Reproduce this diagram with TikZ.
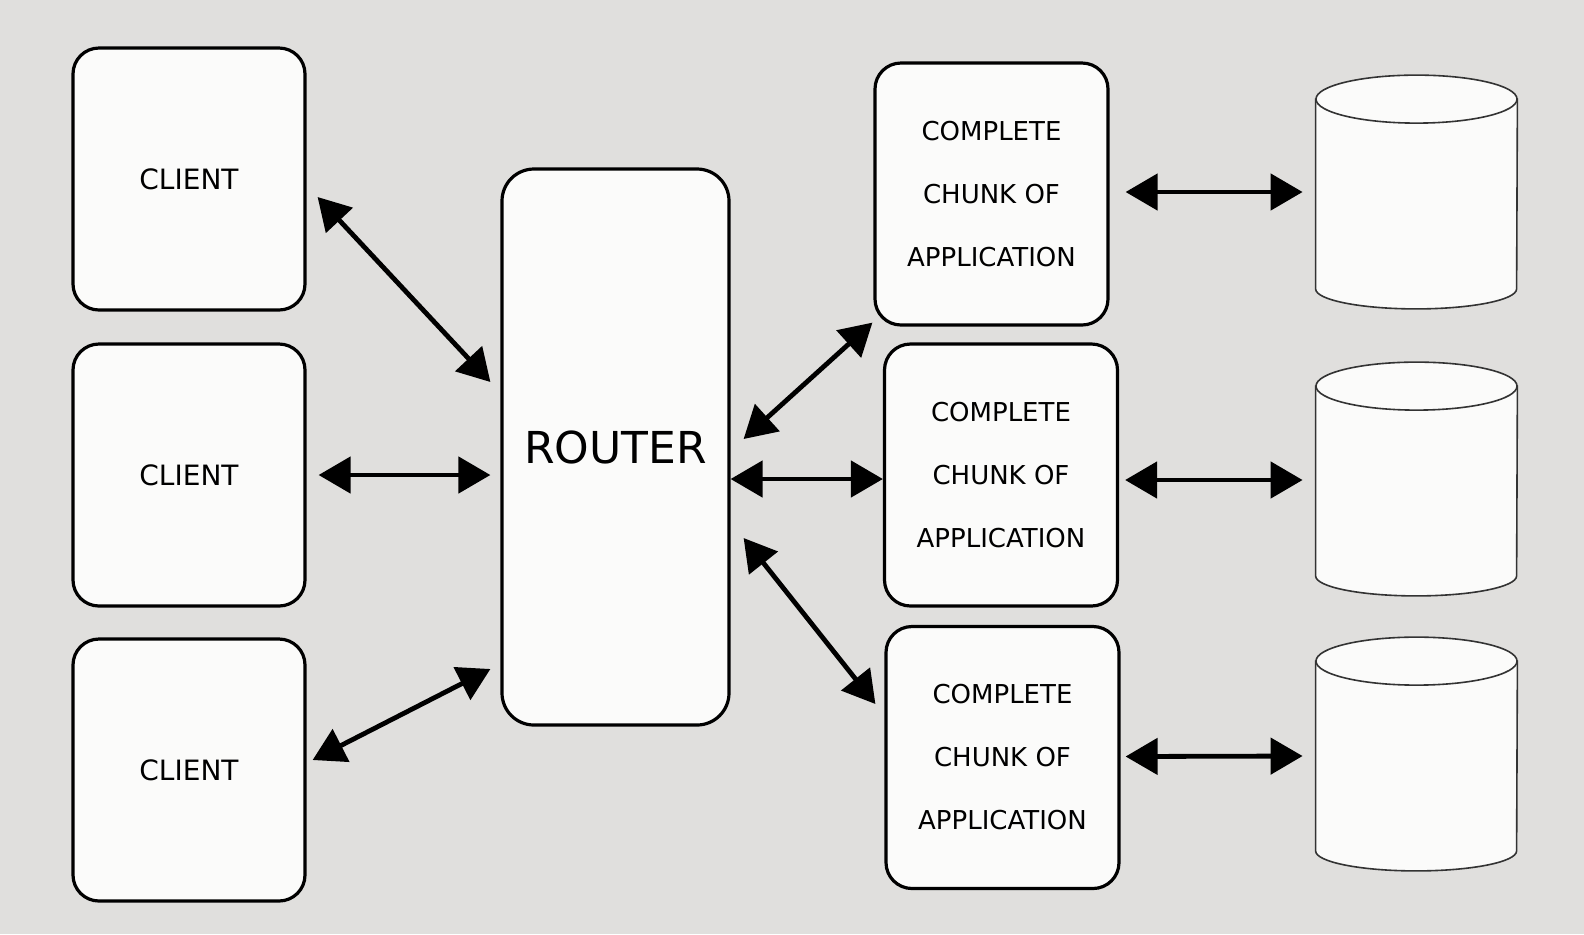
\documentclass[tikz,border=0pt]{standalone}
\usepackage{fontspec}
\setmainfont{DejaVu Sans}
\usetikzlibrary{arrows.meta,calc}
\definecolor{bg}{HTML}{E0DFDD}
\definecolor{boxfill}{HTML}{FBFBFA}
\newcommand\dbdraw[1]{%
  \filldraw[cyl] ($(#1.north west)+(0,24)$) -- ($(#1.south west)+(0,-20)$)
     arc[start angle=180,end angle=360,x radius=50.25pt,y radius=10pt]
     -- ($(#1.north east)+(0,24)$) -- cycle;
  \filldraw[cyl] ($(#1.north)+(0,24)$) ellipse[x radius=50.25pt, y radius=12pt];
}
\begin{document}
\begin{tikzpicture}[x=0.5pt,y=-0.5pt,
  box/.style={draw=black, line width=1.6pt, rounded corners=13pt, fill=boxfill,
    inner sep=0pt, align=center},
  clientbox/.style={box, minimum width=116pt, minimum height=131pt,
    font=\fontsize{14}{16}\selectfont},
  appbox/.style={box, minimum width=116.5pt, minimum height=131pt,
    font=\fontsize{13}{31.5}\selectfont},
  dbnode/.style={inner sep=0pt, minimum width=100.5pt, minimum height=116.5pt},
  cyl/.style={draw=black!80, line width=0.8pt, fill=boxfill},
  link/.style={line width=2.4pt,
    {Triangle[length=16pt,width=18pt]}-{Triangle[length=16pt,width=18pt]}}]
\fill[bg] (0,0) rectangle (1584,934);
\useasboundingbox (0,0) rectangle (1584,934);

\node[clientbox] (c1) at (189,179) {CLIENT};
\node[clientbox] (c2) at (189,475) {CLIENT};
\node[clientbox] (c3) at (189,770) {CLIENT};

\node[box, minimum width=113.5pt, minimum height=278pt, rounded corners=16pt,
  font=\fontsize{22}{24}\selectfont] (r) at (615.5,447) {ROUTER};

\node[appbox] (a1) at (991.5,194) {COMPLETE\\CHUNK OF\\APPLICATION};
\node[appbox] (a2) at (1001,475) {COMPLETE\\CHUNK OF\\APPLICATION};
\node[appbox] (a3) at (1002.5,757.5) {COMPLETE\\CHUNK OF\\APPLICATION};

\node[dbnode] (d1) at (1416.5,192) {};
\node[dbnode] (d2) at (1416.5,479) {};
\node[dbnode] (d3) at (1416.5,754) {};
\dbdraw{d1}\dbdraw{d2}\dbdraw{d3}

\draw[link] ($(c1.east)+(11,18)$) -- ($(r.west)+(-10,-65)$);
\draw[link] ($(c2.east)+(12,0)$) -- ($(r.west)+(-10,28)$);
\draw[link] ($(c3.east)+(6,-10)$) -- ($(r.west)+(-10,222)$);

\draw[link] ($(r.east)+(13,-8)$) -- ($(a1.south west)+(-1,-4)$);
\draw[link] ($(r.east)+(0,32)$) -- ($(a2.west)+(0,4)$);
\draw[link] ($(r.east)+(13,91)$) -- ($(a3.west)+(-9,-53.5)$);

\draw[link] ($(a1.east)+(16,-2)$) -- ($(d1.west)+(-13,0)$);
\draw[link] ($(a2.east)+(6,5)$) -- ($(d2.west)+(-13,1)$);
\draw[link] ($(a3.east)+(5,-1)$) -- ($(d3.west)+(-13,2)$);
\end{tikzpicture}
\end{document}
